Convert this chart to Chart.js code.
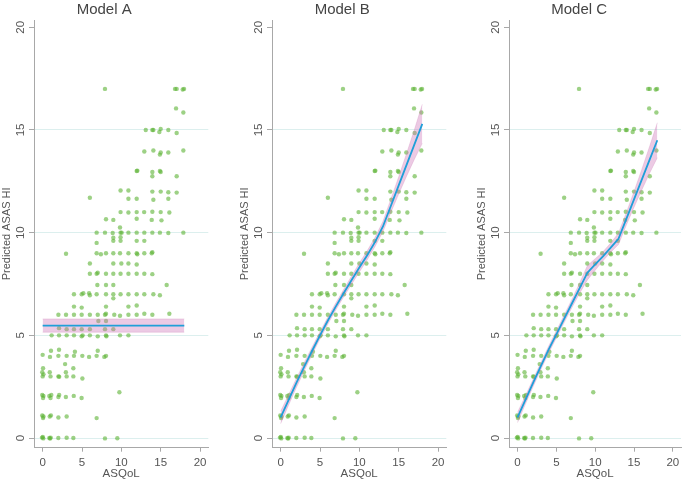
<!DOCTYPE html>
<html>
<head>
<meta charset="utf-8">
<script src="https://cdn.jsdelivr.net/npm/chart.js@4.4.0/dist/chart.umd.min.js"></script>
<style>
  body { margin: 0; background: #fff; }
  #wrap { position: relative; width: 685px; height: 481px; overflow: hidden; }
  canvas { position: absolute; top: 0; }
</style>
</head>
<body>
<div id="wrap">
  <canvas id="panelA" width="237" height="481" style="left:0px"></canvas>
  <canvas id="panelB" width="237" height="481" style="left:238px"></canvas>
  <canvas id="panelC" width="210" height="481" style="left:475px"></canvas>
</div>
<script>
// observed data (jittered), same in every panel
var asqol = [
  -0.08, 0.08, 0.02, 0.85, 0.95, 1.02, 1.99, 3.05, 3.9, 7.92, 9.49,
  -0.05, 0.05, 0.1, 0.9, 1.05, 2.0, 3.05, 6.86,
  -0.05, 0.05, 0.1, 0.85, 1.0, 1.1, 2.0, 2.1, 2.95, 3.95, 4.95, 9.75,
  -0.05, 0.0, 0.1, 0.05, 0.9, 1.0, 2.0, 2.1, 2.95, 3.05, 3.9, 3.9, 2.85, 5.05,
  0.0, 0.93, 1.06, 2.0, 2.08, 3.05, 3.98, 4.1, 5.04, 5.9, 6.86, 7.0, 7.84, 8.05,
  1.14, 2.08, 3.05, 3.98, 4.96, 5.08, 6.0, 7.0, 8.05, 8.1, 9.83, 10.9,
  2.08, 3.05, 3.98, 4.96, 6.0, 7.92, 8.98, 7.08, 8.05,
  2.0, 2.97, 3.98, 4.96, 6.0, 7.0, 7.92, 8.05, 9.1, 9.83, 10.9, 11.95, 12.92, 13.94, 16.1,
  3.98, 4.96, 8.05, 10.9, 11.95,
  3.98, 4.96, 5.17, 5.9, 6.0, 6.86, 8.05, 8.98, 9.9, 10.9, 11.95, 12.92, 14.07, 14.9, 8.98,
  6.95, 8.05, 8.98, 15.76,
  6.0, 6.86, 7.0, 8.05, 8.98, 9.9, 10.9, 11.95, 12.92, 13.94,
  6.0, 8.98, 10.0, 10.9, 11.95,
  2.97, 6.86, 7.4, 8.05, 8.98, 9.83, 10.9, 11.95, 12.03, 12.92, 13.86, 13.94,
  6.86, 8.98, 9.9, 11.95, 12.92, 8.98, 9.9,
  6.86, 7.92, 8.9, 9.9, 10.04, 10.9, 11.95, 12.92, 13.94, 14.9, 15.97, 17.88, 9.83,
  8.05, 8.98, 11.95, 13.86, 15.1,
  9.9, 10.9, 11.95, 12.9, 13.94, 15.0, 16.1,
  6.0, 10.9, 11.95, 14.07, 15.97,
  9.9, 10.9, 13.94, 15.0, 15.97, 17.03,
  11.95, 12.03, 13.94, 14.9, 15.0, 13.94, 17.03,
  12.92, 14.07, 15.0, 15.97, 17.88, 14.9,
  13.1, 13.94, 14.07, 15.0, 15.97, 14.83, 17.03,
  16.95, 17.88,
  7.92, 16.82, 17.03, 17.8, 17.97
];
var asasHi = [
  0.02, -0.02, 0.05, 0.0, -0.03, 0.02, 0.0, 0.01, 0.0, -0.02, -0.01,
  1.1, 0.97, 1.05, 1.05, 1.1, 1.0, 1.05, 0.97,
  2.1, 1.95, 2.05, 2.05, 1.95, 2.1, 2.0, 2.1, 2.0, 2.05, 1.95, 2.23,
  3.2, 3.0, 3.1, 3.4, 3.2, 3.0, 3.0, 2.98, 3.2, 3.0, 3.0, 3.4, 3.6, 2.9,
  4.05, 3.95, 4.25, 4.0, 4.3, 4.0, 4.0, 4.2, 4.0, 3.95, 4.0, 4.25, 3.95, 4.0,
  5.0, 5.0, 5.0, 5.0, 4.95, 5.0, 5.0, 4.95, 5.0, 4.95, 5.0, 5.0,
  5.35, 5.3, 5.3, 5.3, 5.3, 5.3, 5.3, 5.7, 5.7,
  6.0, 6.0, 6.0, 6.0, 6.0, 6.0, 6.0, 6.05, 6.0, 5.95, 6.0, 6.0, 6.05, 6.0, 6.05,
  6.4, 6.35, 6.4, 6.4, 6.45,
  7.0, 7.0, 7.05, 7.05, 6.95, 7.0, 7.0, 7.0, 7.0, 7.0, 7.0, 7.0, 7.0, 6.95, 6.8,
  7.45, 7.45, 7.45, 7.45,
  8.0, 8.0, 8.05, 8.0, 8.0, 8.0, 8.0, 8.0, 8.0, 7.98,
  8.5, 8.5, 8.5, 8.5, 8.45,
  8.97, 9.0, 8.95, 9.0, 9.0, 9.0, 9.0, 9.0, 8.95, 9.0, 9.0, 9.05,
  9.5, 9.6, 9.6, 9.6, 9.6, 9.75, 9.78,
  10.0, 10.0, 9.98, 10.0, 10.0, 10.0, 10.0, 10.0, 10.0, 10.0, 9.98, 10.0, 10.25,
  10.65, 10.62, 10.68, 10.62, 10.6,
  11.0, 10.98, 11.0, 11.0, 11.02, 11.0, 10.98,
  11.7, 11.65, 11.65, 11.6, 11.65,
  12.05, 12.05, 12.0, 12.0, 11.97, 11.95,
  13.0, 13.02, 12.95, 13.0, 12.95, 12.75, 12.75,
  13.95, 14.0, 13.9, 13.9, 14.0, 13.8,
  15.0, 15.0, 15.0, 15.05, 15.0, 14.9, 14.85,
  16.05, 15.85,
  17.0, 17.0, 17.0, 16.97, 17.0
];

// fitted lines and confidence bands
var fitXA = [0, 18];
var fitA = [5.47, 5.47];
var loA = [5.15, 5.15];
var hiA = [5.8, 5.8];

var fitX = [0, 1, 2, 3, 4, 5, 6, 7, 8, 9, 10, 11, 12, 13, 14, 15, 16, 17, 18];
var fitB = [1.0, 1.85, 2.68, 3.48, 4.25, 5.0, 5.72, 6.4, 7.05, 7.68, 8.3, 8.9, 9.55, 10.3, 11.3, 12.3, 13.3, 14.3, 15.3];
var loB = [0.7, 1.6, 2.46, 3.28, 4.07, 4.83, 5.55, 6.23, 6.87, 7.48, 8.08, 8.68, 9.33, 10.05, 10.98, 11.88, 12.75, 13.58, 14.35];
var hiB = [1.3, 2.1, 2.9, 3.68, 4.43, 5.17, 5.89, 6.57, 7.23, 7.88, 8.52, 9.12, 9.77, 10.55, 11.62, 12.72, 13.85, 15.02, 16.25];

var fitC = [1.0, 1.84, 2.68, 3.5, 4.3, 5.05, 5.8, 6.55, 7.3, 8.05, 8.45, 8.85, 9.27, 9.7, 10.66, 11.62, 12.58, 13.54, 14.5];
var loC = [0.75, 1.64, 2.5, 3.33, 4.13, 4.88, 5.62, 6.35, 7.05, 7.7, 8.17, 8.63, 9.05, 9.42, 10.36, 11.24, 12.08, 12.89, 13.65];
var hiC = [1.25, 2.04, 2.86, 3.67, 4.47, 5.22, 5.98, 6.75, 7.55, 8.4, 8.73, 9.07, 9.49, 9.98, 10.96, 12.0, 13.08, 14.19, 15.35];

var titles = ["Model A", "Model B", "Model C"];
var xTicks = [0, 5, 10, 15, 20];
var yTicks = [0, 5, 10, 15, 20];

var FONT = "'Liberation Sans', Arial, sans-serif";

function pairs(xs, ys) {
  return xs.map(function (x, i) { return { x: x, y: ys[i] }; });
}

function makePanel(id, title, xs, fit, lo, hi, padRight) {
  var ctx = document.getElementById(id);
  return new Chart(ctx, {
    type: "scatter",
    data: {
      datasets: [
        {
          type: "line", data: pairs(xs, fit), borderColor: "#1f9fd8",
          borderWidth: 1.8, pointRadius: 0, fill: false, order: 0
        },
        {
          type: "line", data: pairs(xs, hi), borderColor: "rgba(205,130,185,0.45)",
          borderWidth: 0.6, pointRadius: 0, fill: false, order: 1
        },
        {
          type: "line", data: pairs(xs, lo), borderColor: "rgba(205,130,185,0.45)",
          borderWidth: 0.6, pointRadius: 0, fill: "-1",
          backgroundColor: "rgba(205,115,185,0.38)", order: 1
        },
        {
          data: pairs(asqol, asasHi), backgroundColor: "rgba(92,178,52,0.6)",
          borderWidth: 0, pointRadius: 2.2, order: 2
        }
      ]
    },
    options: {
      responsive: false,
      animation: false,
      layout: { padding: { left: 0, right: padRight, top: 0, bottom: 0 } },
      plugins: {
        legend: { display: false },
        tooltip: { enabled: false },
        title: {
          display: true, text: title, color: "#444",
          font: { family: FONT, size: 15, weight: "normal", lineHeight: 1.2 },
          padding: { top: 0.6, bottom: 1.4 }
        }
      },
      scales: {
        x: {
          type: "linear", min: -1.1, max: 21.05,
          afterFit: function (s) { s.height = 33.3; },
          afterBuildTicks: function (s) { s.ticks = xTicks.map(function (v) { return { value: v }; }); },
          border: { color: "#a8a8a8", width: 1 },
          grid: { drawOnChartArea: false, drawTicks: true, tickLength: 4, tickColor: "#a8a8a8" },
          ticks: { color: "#555", padding: 3.8, maxRotation: 0, font: { family: FONT, size: 11.5 } },
          title: {
            display: true, text: "ASQoL", color: "#555",
            font: { family: FONT, size: 11.5, lineHeight: 1.2 }, padding: 0
          }
        },
        y: {
          type: "linear", min: -0.472, max: 20.355,
          afterFit: function (s) { s.width = 34; },
          afterBuildTicks: function (s) { s.ticks = yTicks.map(function (v) { return { value: v }; }); },
          border: { color: "#a8a8a8", width: 1 },
          grid: {
            color: function (c) { return c.tick && c.tick.value === 20 ? "rgba(0,0,0,0)" : "#dcefee"; },
            tickLength: 5, tickColor: "#a8a8a8"
          },
          ticks: {
            color: "#555", padding: 1.6, minRotation: 90, maxRotation: 90, crossAlign: "center",
            font: { family: FONT, size: 11.5 }
          },
          title: {
            display: true, text: "Predicted ASAS HI", color: "#555",
            font: { family: FONT, size: 11, lineHeight: 1.2 }, padding: { top: 0.8, bottom: 0 }
          }
        }
      }
    }
  });
}

makePanel("panelA", titles[0], fitXA, fitA, loA, hiA, 28.7);
makePanel("panelB", titles[1], fitX, fitB, loB, hiB, 28.7);
makePanel("panelC", titles[2], fitX, fitC, loC, hiC, 1.7);
</script>
</body>
</html>
